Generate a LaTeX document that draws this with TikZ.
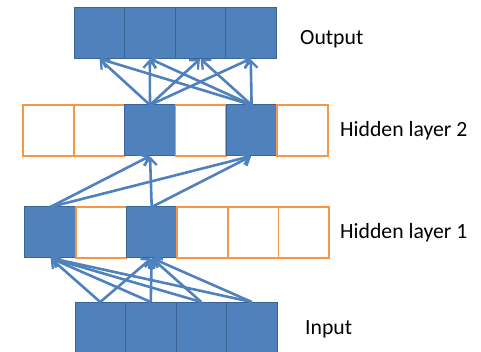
\documentclass[tikz,border=0pt]{standalone}
\usepackage{fontspec}
\setmainfont{Carlito}
\usetikzlibrary{arrows.meta}
\definecolor{nblue}{HTML}{4F81BD}
\definecolor{nbord}{HTML}{3A6496}
\definecolor{norange}{HTML}{F79646}
\begin{document}
\begin{tikzpicture}[x=1pt,y=-1pt,
  cell/.style={rectangle,inner sep=0pt,outer sep=0pt,minimum width=50.5pt,minimum height=51pt},
  oncell/.style={cell,fill=nblue,draw=nbord,line width=1pt},
  offcell/.style={cell,fill=white,draw=norange,line width=1.7pt},
  conn/.style={draw=nblue,line width=2.6pt,-{Straight Barb[length=7pt,width=13pt,line width=2.3pt]},shorten >=0.5pt},
  lbl/.style={anchor=west,inner sep=0pt,font=\fontsize{21.7}{26}\selectfont}]
\useasboundingbox (0,0) rectangle (481,352);
% Output
\foreach \i/\x in {1/99.25,2/149.75,3/200.25,4/250.75}
  \node[oncell] (o\i) at (\x,33.2) {};
% Hidden layer 2
\foreach \i/\x/\s in {1/48.4/offcell,2/99.2/offcell,3/150/oncell,4/200.8/offcell,5/251.6/oncell,6/302.4/offcell}
  \node[\s,minimum width=50.8pt] (b\i) at (\x,130.5) {};
% Hidden layer 1
\foreach \i/\x/\s in {1/50.3/oncell,2/101/offcell,3/151.7/oncell,4/202.4/offcell,5/253/offcell,6/303.8/offcell}
  \node[\s,minimum width=50.7pt] (a\i) at (\x,232.5) {};
% Input
\foreach \i/\x in {1/100.25,2/150.75,3/201.25,4/251.75}
  \node[oncell] (n\i) at (\x,327.5) {};
% Labels
\node[lbl] (lo) at (300,39) {Output};
\node[lbl] (l2) at (340,130.5) {Hidden layer 2};
\node[lbl] (l1) at (340,232.5) {Hidden layer 1};
\node[lbl] (li) at (305,329) {Input};
% Connections
\foreach \s in {b3,b5}
  \foreach \t in {o1,o2,o3,o4}
    \draw[conn] (\s.north) -- (\t.south);
\foreach \s in {a1,a3}
  \foreach \t in {b3,b5}
    \draw[conn] (\s.north) -- (\t.south);
\foreach \s in {n1,n2,n3,n4}
  \foreach \t in {a1,a3}
    \draw[conn] (\s.north) -- (\t.south);
\end{tikzpicture}
\end{document}
